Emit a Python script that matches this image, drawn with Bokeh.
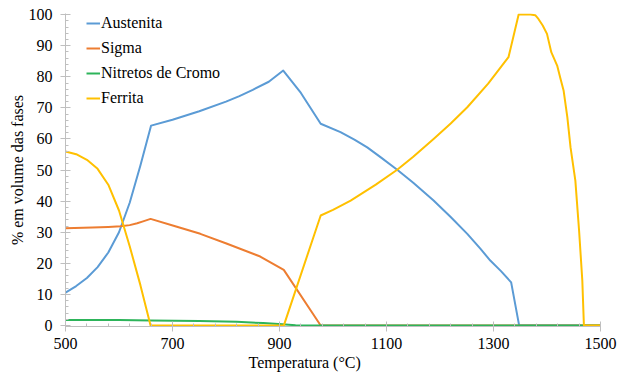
from bokeh.plotting import figure
from bokeh.models import Range1d, SingleIntervalTicker, FixedTicker, Legend, LegendItem, Title
from bokeh.embed import file_html
from bokeh.resources import INLINE

# Data
temp_austenita = [500, 520, 540, 560, 580, 600, 620, 640, 660, 700, 750, 800, 825, 850, 880, 907,
                  940, 977, 1014, 1040, 1064, 1090, 1120, 1150, 1188, 1220, 1251, 1275, 1294, 1314,
                  1333, 1348, 1500]
vol_austenita = [10.6, 12.7, 15.3, 18.8, 23.5, 30.0, 39.5, 51.5, 64.3, 66.2, 68.9, 72.0, 73.8, 75.8, 78.4, 82.0,
                 74.8, 64.9, 62.2, 59.8, 57.3, 54.0, 50.1, 45.9, 40.2, 34.9, 29.5, 24.8, 20.9, 17.5,
                 13.9, 0.0, 0.0]

temp_sigma = [500, 550, 580, 603, 620, 634, 645, 659, 702, 752, 802, 864, 908, 977, 1500]
vol_sigma = [31.3, 31.5, 31.7, 31.9, 32.3, 32.9, 33.5, 34.3, 32.1, 29.5, 26.3, 22.2, 17.9, 0.0, 0.0]

temp_nitretos = [500, 600, 660, 750, 820, 870, 905, 930, 950, 1500]
vol_nitretos = [1.8, 1.75, 1.65, 1.5, 1.2, 0.8, 0.4, 0.1, 0.0, 0.0]

temp_ferrita = [500, 520, 540, 560, 580, 600, 620, 640, 659, 908, 977, 1000, 1033, 1080, 1120, 1150,
                1188, 1220, 1251, 1290, 1328, 1347, 1369, 1378, 1384, 1392, 1400, 1408, 1419, 1425,
                1431, 1438, 1444, 1453, 1460, 1466, 1469, 1500]
vol_ferrita = [56.0, 55.1, 53.3, 50.4, 45.3, 37.0, 25.5, 13.0, 0.0, 0.0, 35.4, 37.2, 40.2, 45.3, 50.1, 54.3,
               60.0, 65.0, 70.2, 77.8, 86.3, 100.0, 100.0, 99.8, 98.6, 96.5, 93.8, 87.9, 83.6, 79.5,
               75.6, 67.0, 57.3, 46.6, 30.5, 14.5, 0.0, 0.0]

series_names = ["Austenita", "Sigma", "Nitretos de Cromo", "Ferrita"]
series_colors = ["#5B9BD5", "#ED7D31", "#2DB45A", "#FFC000"]

x_ticks = [500, 700, 900, 1100, 1300, 1500]
x_minor_ticks = [540, 580, 620, 660, 740, 780, 820, 860, 940, 980, 1020, 1060,
                 1140, 1180, 1220, 1260, 1340, 1380, 1420, 1460]

x_label = "Temperatura (°C)"
y_label = "% em volume das fases"

FONT = "Liberation Serif"
AXIS_GRAY = "#BFBFBF"

p = figure(width=620, height=374, output_backend="svg", toolbar_location=None,
           x_range=Range1d(500, 1500), y_range=Range1d(-0.3, 100.35),
           min_border_left=65, min_border_right=20, min_border_top=13, min_border_bottom=48)
p.outline_line_color = None
p.xgrid.visible = False
p.ygrid.visible = False
p.background_fill_color = "white"
p.border_fill_color = "white"

p.xaxis.ticker = FixedTicker(ticks=x_ticks, minor_ticks=x_minor_ticks)
p.yaxis.ticker = SingleIntervalTicker(interval=10, num_minor_ticks=5)

for ax in (p.xaxis[0], p.yaxis[0]):
    ax.axis_line_color = AXIS_GRAY
    ax.major_tick_line_color = AXIS_GRAY
    ax.minor_tick_line_color = AXIS_GRAY
    ax.major_tick_in = 5
    ax.major_tick_out = 5
    ax.minor_tick_in = 3
    ax.minor_tick_out = 0
    ax.major_label_text_font = FONT
    ax.major_label_text_font_size = "16px"
    ax.major_label_text_font_style = "normal"
    ax.major_label_text_color = "#000000"
    ax.axis_label_text_font = FONT
    ax.axis_label_text_font_size = "16px"
    ax.axis_label_text_font_style = "normal"
    ax.axis_label_text_color = "#000000"

p.xaxis.major_label_standoff = 6
p.yaxis.major_label_standoff = 8
p.yaxis.axis_label = y_label
p.yaxis.axis_label_standoff = 0

xs = [temp_austenita, temp_sigma, temp_nitretos, temp_ferrita]
ys = [vol_austenita, vol_sigma, vol_nitretos, vol_ferrita]
items = []
for name, color, x, y in zip(series_names, series_colors, xs, ys):
    r = p.line(x, y, line_color=color, line_width=2, line_join="round")
    items.append(LegendItem(label=name, renderers=[r]))

legend = Legend(items=items, location=(21, 218), margin=0, padding=0, spacing=5,
                label_height=20, glyph_height=20, glyph_width=14, label_standoff=1,
                border_line_color=None, background_fill_alpha=0,
                label_text_font=FONT, label_text_font_style="normal",
                label_text_font_size="16px", label_text_color="#000000")
p.add_layout(legend)

p.add_layout(Title(text=x_label, align="left", offset=183, standoff=0,
                   text_font=FONT, text_font_size="16px", text_font_style="normal",
                   text_color="#000000"), "below")

open("out.html", "w").write(file_html(p, INLINE))
